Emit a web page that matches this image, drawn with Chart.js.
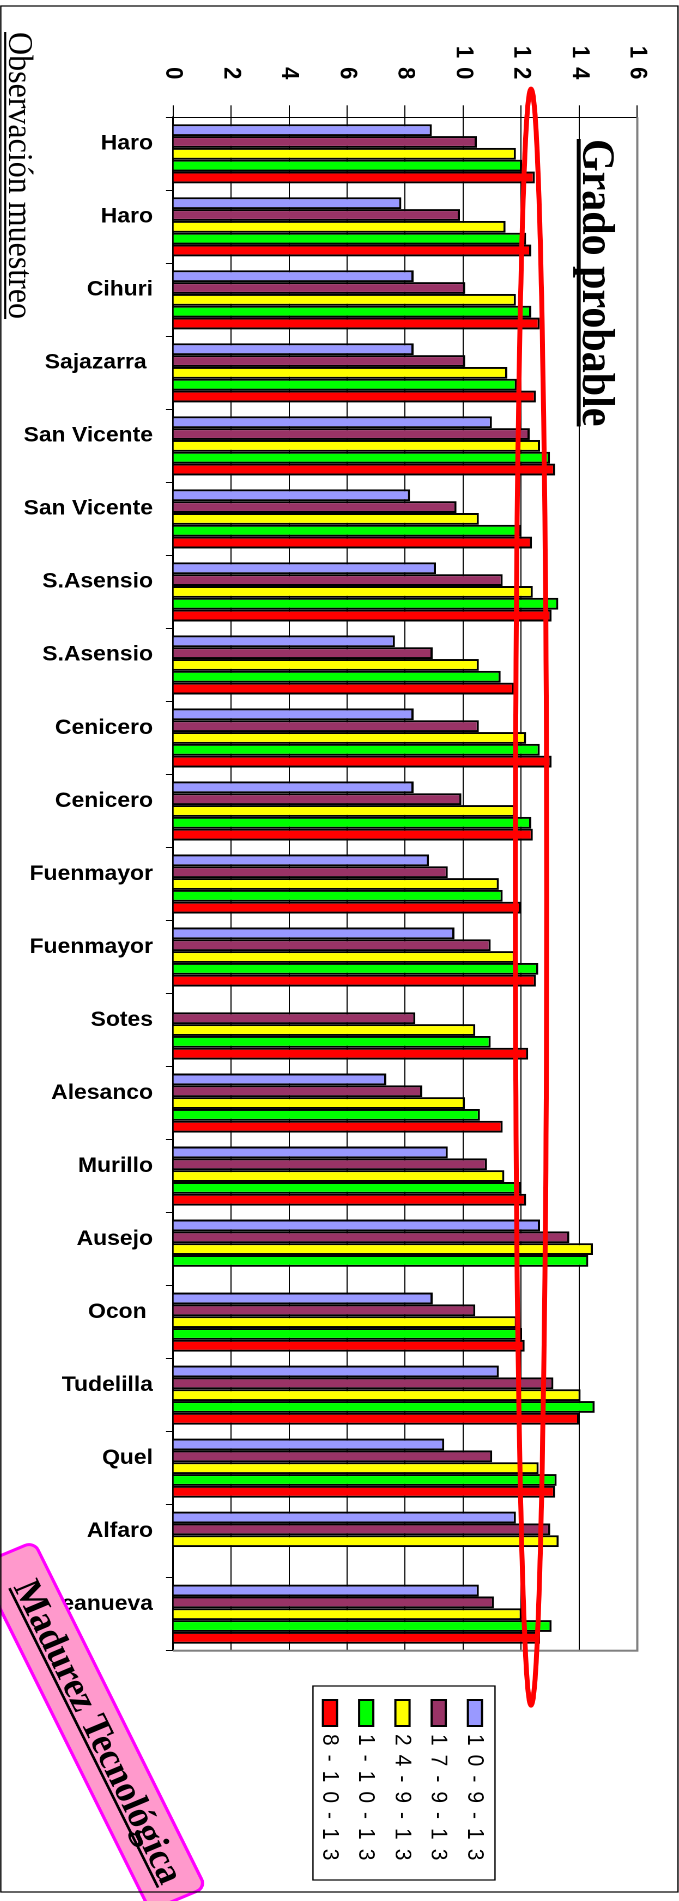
<!DOCTYPE html>
<html lang="es">
<head>
<meta charset="UTF-8">
<title>Grado probable</title>
<script src="https://cdn.jsdelivr.net/npm/chart.js"></script>
<style>
  html, body { margin: 0; padding: 0; background: #fff; overflow: hidden; }
  /* the chart is drawn upright and turned a quarter turn, like the scanned sheet */
  #wrap { position: absolute; left: 0; top: 0; width: 1901px; height: 623px;
          transform-origin: 0 0; transform: translate(679px, 0) rotate(90deg) scale(1, 1.09); }
  canvas { display: block; }
</style>
</head>
<body>
<div id="wrap"><canvas id="chart" width="1901" height="623"></canvas></div>
<script>
  // Sampling points (category axis)
  const places = ['Haro', 'Haro', 'Cihuri', 'Sajazarra ', 'San Vicente', 'San Vicente', 'S.Asensio', 'S.Asensio',
    'Cenicero', 'Cenicero', 'Fuenmayor', 'Fuenmayor', 'Sotes', 'Alesanco', 'Murillo', 'Ausejo', 'Ocon ',
    'Tudelilla', 'Quel', 'Alfaro', 'Aldeanueva'];

  // Sampling dates (series)
  const dates = ['10-9-13', '17-9-13', '24-9-13', '1-10-13', '8-10-13'];
  const colors = ['#9999FF', '#993366', '#FFFF00', '#00FF00', '#FF0000'];

  // Grado probable per date
  const s10sep = [8.92, 7.87, 8.29, 8.29, 10.99, 8.17, 9.06, 7.65, 8.29, 8.29, 8.82, 9.70, null, 7.35, 9.47, 12.65, 8.95, 11.23, 9.35, 11.82, 10.54];
  const s17sep = [10.47, 9.89, 10.07, 10.07, 12.29, 9.77, 11.36, 8.95, 10.54, 9.94, 9.47, 10.95, 8.35, 8.59, 10.82, 13.66, 10.42, 13.11, 11.00, 13.00, 11.06];
  const s24sep = [11.82, 11.46, 11.82, 11.52, 12.65, 10.54, 12.40, 10.54, 12.17, 11.78, 11.23, 11.78, 10.42, 10.06, 11.42, 14.47, 11.85, 14.05, 12.60, 13.29, 12.02];
  const s1oct = [12.03, 12.17, 12.35, 11.85, 12.99, 12.00, 13.28, 11.29, 12.64, 12.35, 11.36, 12.59, 10.95, 10.58, 12.00, 14.31, 12.03, 14.53, 13.22, null, 13.05];
  const s8oct = [12.47, 12.35, 12.64, 12.51, 13.17, 12.37, 13.05, 11.76, 13.05, 12.40, 11.99, 12.51, 12.24, 11.36, 12.17, null, 12.12, 14.00, 13.17, null, 12.65];
  const series = [s10sep, s17sep, s24sep, s1oct, s8oct];

  // Value axis
  const yMin = 0, yMax = 16, yStep = 2;

  // Red hand-drawn oval: [center, half size] in category index / value units
  const ovalCat = [10.18, 11.07];
  const ovalVal = [12.34, 0.54];

  const SERIF = '"Liberation Serif", "Times New Roman", serif';
  const SANS = '"Liberation Sans", Arial, sans-serif';

  const decor = {
    id: 'decor',
    beforeDraw(chart) {
      // spaced digits on the value axis, as in the original print
      const ys = chart.scales.y;
      if (!ys._spaced) {
        const orig = ys.drawLabels.bind(ys);
        ys.drawLabels = function (area) {
          const c = this.ctx;
          c.save();
          c.letterSpacing = '9px';
          orig(area);
          c.restore();
        };
        ys._spaced = true;
      }
    },
    beforeDatasetsDraw(chart) {
      const { ctx, chartArea: a } = chart;
      ctx.save();
      ctx.strokeStyle = '#808080';
      ctx.lineWidth = 2;
      ctx.beginPath();
      ctx.moveTo(a.left, a.top);
      ctx.lineTo(a.right, a.top);
      ctx.lineTo(a.right, a.bottom);
      ctx.stroke();
      ctx.restore();
    },
    afterDraw(chart) {
      const { ctx } = chart;
      const xs = chart.scales.x, ys = chart.scales.y;

      // oval
      const cx = xs.getPixelForValue(ovalCat[0]);
      const rx = xs.getPixelForValue(ovalCat[0] + ovalCat[1]) - cx;
      const cy = ys.getPixelForValue(ovalVal[0]);
      const ry = cy - ys.getPixelForValue(ovalVal[0] + ovalVal[1]);
      ctx.save();
      ctx.strokeStyle = '#FF0000';
      ctx.lineWidth = 4.5;
      ctx.beginPath();
      ctx.ellipse(cx, cy, rx, ry, 0, 0, Math.PI * 2);
      ctx.stroke();
      ctx.restore();

      ctx.save();
      ctx.fillStyle = '#000';
      ctx.textBaseline = 'alphabetic';

      // title
      ctx.font = 'bold 42px ' + SERIF;
      ctx.fillText('Grado probable', 139, 87.8);
      ctx.fillRect(139, 90.2, ctx.measureText('Grado probable').width, 3.6);

      // axis caption
      ctx.font = '32px ' + SERIF;
      ctx.fillText('Observación muestreo', 32, 614.5);
      ctx.fillRect(32, 617.2, ctx.measureText('Observación muestreo').width, 1.8);

      // legend
      ctx.strokeStyle = '#000';
      ctx.lineWidth = 1.2;
      ctx.strokeRect(1686, 168.8, 194, 167);
      ctx.font = '21px ' + SANS;
      ctx.letterSpacing = '9px';
      chart.data.datasets.forEach((ds, i) => {
        const top = 180.7 + i * 33.25;
        ctx.fillStyle = ds.backgroundColor;
        ctx.fillRect(1700, top, 26, 13);
        ctx.lineWidth = 2;
        ctx.strokeRect(1700, top, 26, 13);
        ctx.fillStyle = '#000';
        ctx.fillText(ds.label, 1734, top + 13);
      });
      ctx.letterSpacing = '0px';

      // pink note
      ctx.translate(1541.7, 591.8);
      ctx.rotate(-24.5 * Math.PI / 180);
      ctx.beginPath();
      ctx.roundRect(0, 0, 380, 56, 9);
      ctx.fillStyle = '#FF99CC';
      ctx.fill();
      ctx.strokeStyle = '#FF00FF';
      ctx.lineWidth = 3;
      ctx.stroke();
      ctx.fillStyle = '#000';
      ctx.font = 'bold 36px ' + SERIF;
      ctx.fillText('Madurez Tecnológica', 33, 36);
      ctx.fillRect(33, 38.5, ctx.measureText('Madurez Tecnológica').width, 2.5);
      ctx.restore();

      // outer frame
      ctx.save();
      ctx.strokeStyle = '#000';
      ctx.lineWidth = 1.2;
      ctx.strokeRect(6, 0.9, 1886, 621.3);
      ctx.restore();
    }
  };

  new Chart(document.getElementById('chart').getContext('2d'), {
    type: 'bar',
    data: {
      labels: places,
      datasets: series.map((vals, i) => ({
        label: dates[i],
        data: vals,
        backgroundColor: colors[i],
        borderColor: '#000',
        borderWidth: 2,
        borderSkipped: 'start',
        categoryPercentage: 0.81,
        barPercentage: 1.0
      }))
    },
    options: {
      responsive: false,
      animation: false,
      devicePixelRatio: 2,
      layout: { padding: { left: 0, top: 38.3, right: 250.3, bottom: 0 } },
      plugins: { legend: { display: false }, tooltip: { enabled: false } },
      scales: {
        x: {
          offset: true,
          grid: { drawOnChartArea: false, drawTicks: true, tickLength: 6.4, color: '#000', offset: true },
          border: { color: '#000', width: 1.5 },
          ticks: {
            minRotation: 90, maxRotation: 90, autoSkip: false, padding: 12, labelOffset: -10,
            color: '#000', font: { family: SANS, size: 21, weight: 'bold' }
          },
          afterFit(s) { s.height = 623 - 464.2; }
        },
        y: {
          min: yMin, max: yMax,
          ticks: { stepSize: yStep, padding: 17, color: '#000', font: { family: SANS, size: 22, weight: 'bold' } },
          grid: { color: '#000', lineWidth: 1, tickLength: 12 },
          border: { color: '#000', width: 1 },
          afterFit(s) { s.width = 117.3; }
        }
      }
    },
    plugins: [decor]
  });
</script>
</body>
</html>
